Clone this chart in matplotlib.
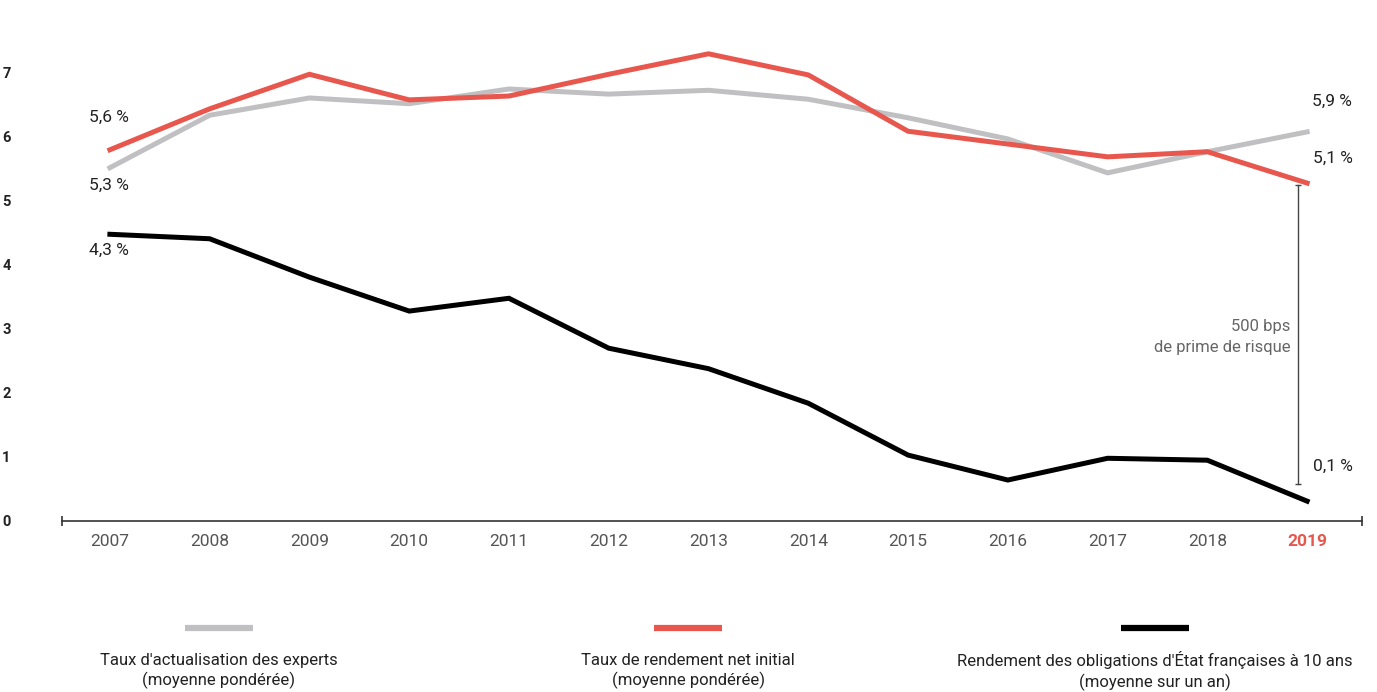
import matplotlib.pyplot as plt
from matplotlib.lines import Line2D

plt.rcParams['font.family'] = ['Roboto', 'DejaVu Sans']

years = list(range(2007, 2020))
experts = [5.52, 6.34, 6.61, 6.52, 6.75, 6.67, 6.73, 6.59, 6.30, 5.97, 5.44, 5.77, 6.08]
rendement = [5.80, 6.44, 6.98, 6.58, 6.64, 6.98, 7.30, 6.97, 6.09, 5.89, 5.69, 5.77, 5.28]
oat = [4.48, 4.41, 3.81, 3.28, 3.48, 2.70, 2.38, 1.84, 1.03, 0.64, 0.98, 0.95, 0.31]

legend_labels = ["Taux d'actualisation des experts\n(moyenne pondérée)",
                 "Taux de rendement net initial\n(moyenne pondérée)",
                 "Rendement des obligations d'État françaises à 10 ans\n(moyenne sur un an)"]

GRAY = '#c0c0c2'
RED = '#e8574e'
BLACK = '#000000'
TXT = '#222222'

fig = plt.figure(figsize=(13.77, 6.92), dpi=100)
ax = fig.add_axes([62/1377, 171/692, 1300/1377, 512/692])

ax.plot(years, experts, color=GRAY, lw=3.6, solid_joinstyle='miter', zorder=2)
ax.plot(years, rendement, color=RED, lw=3.6, solid_joinstyle='miter', zorder=3)
ax.plot(years, oat, color=BLACK, lw=3.6, solid_joinstyle='miter', zorder=3)

ax.set_xlim(2006.52, 2019.55)
ax.set_ylim(0, 8)

for s in ['top', 'right', 'left']:
    ax.spines[s].set_visible(False)
ax.spines['bottom'].set_color('#333333')
ax.spines['bottom'].set_linewidth(1.2)
ax.plot([0, 1], [0, 0], transform=ax.transAxes, ls='none', marker='|',
        ms=7, mew=1.2, color='#333333', clip_on=False)

ax.set_xticks(years)
ax.set_xticklabels([str(y) for y in years], fontsize=12.5, color='#555555')
ax.tick_params(axis='x', length=0, pad=9)
lab = ax.get_xticklabels()[-1]
lab.set_color(RED)
lab.set_fontweight('bold')

ax.set_yticks(range(8))
ax.set_yticklabels([str(i) for i in range(8)], fontsize=10.5, fontweight='bold', color=TXT)
ax.tick_params(axis='y', length=0, pad=40)
for t in ax.get_yticklabels():
    t.set_horizontalalignment('center')

# value labels
ax.text(2006.79, 6.30, '5,6 %', fontsize=12.5, color=TXT, va='center', ha='left')
ax.text(2006.79, 5.24, '5,3 %', fontsize=12.5, color=TXT, va='center', ha='left')
ax.text(2006.79, 4.23, '4,3 %', fontsize=12.5, color=TXT, va='center', ha='left')
ax.text(2019.05, 6.55, '5,9 %', fontsize=12.5, color=TXT, va='center', ha='left')
ax.text(2019.06, 5.67, '5,1 %', fontsize=12.5, color=TXT, va='center', ha='left')
ax.text(2019.06, 0.86, '0,1 %', fontsize=12.5, color=TXT, va='center', ha='left')

# risk premium bracket
bx = 2018.91
ax.plot([bx, bx], [0.58, 5.25], color='#444444', lw=1.0)
ax.plot([bx, bx], [0.58, 5.25], ls='none', marker='_', ms=5, mew=1.0, color='#444444')
ax.text(bx - 0.08, 2.88, '500 bps\nde prime de risque', fontsize=12, color='#666666',
        ha='right', va='center', linespacing=1.5)

# legend
centers = [219, 688, 1155]
for cx, col, label in zip(centers, [GRAY, RED, BLACK], legend_labels):
    fig.add_artist(Line2D([(cx - 34) / 1377, (cx + 34) / 1377], [1 - 628/692] * 2,
                          color=col, lw=4.5, solid_capstyle='butt'))
    fig.text(cx / 1377, 1 - 671/692, label, fontsize=12, color=TXT,
             ha='center', va='center', linespacing=1.3)

fig.savefig('out.png', dpi=100)
